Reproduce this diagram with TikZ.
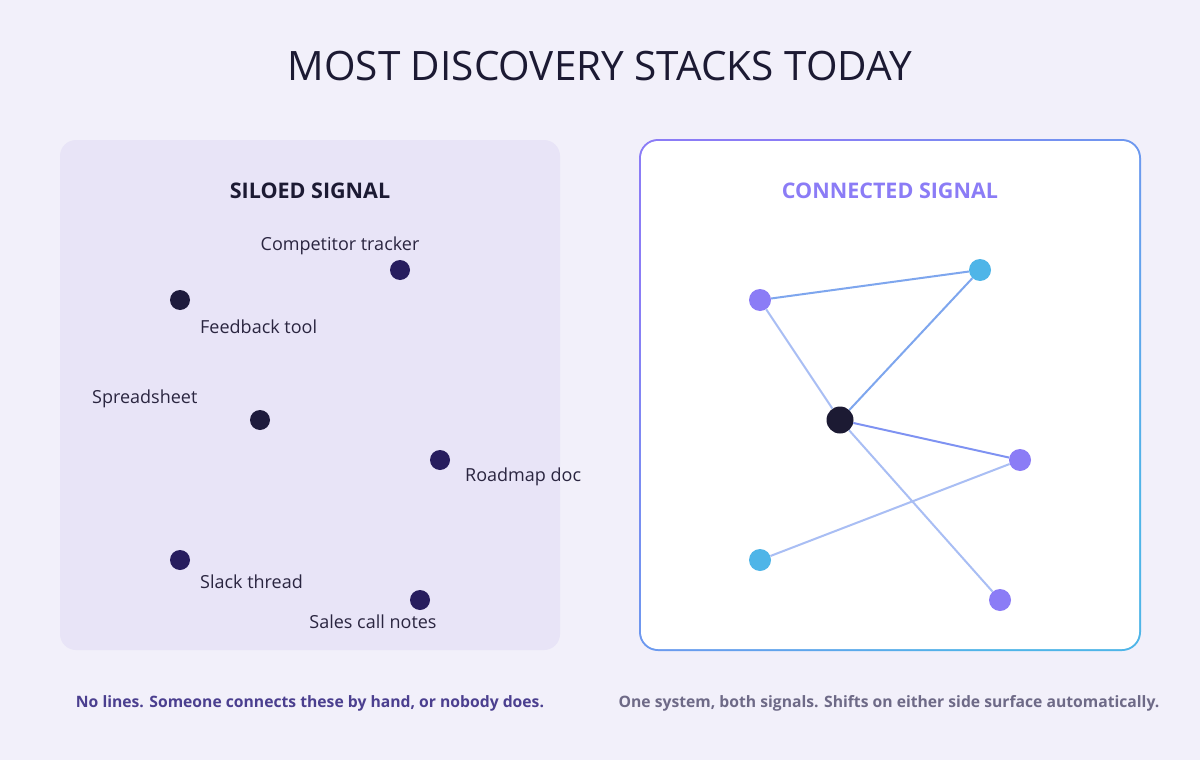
\documentclass[tikz,border=0pt]{standalone}
\usepackage{fontspec}
\setmainfont{Open Sans}
\definecolor{bg}{HTML}{F2F0FA}
\definecolor{leftpanel}{HTML}{E8E4F7}
\definecolor{ink}{HTML}{1C1A33}
\definecolor{labelink}{HTML}{2A2540}
\definecolor{dotA}{HTML}{271D5E}
\definecolor{dotB}{HTML}{1E1B3D}
\definecolor{purp}{HTML}{8B7CF6}
\definecolor{cyanb}{HTML}{4FB5E8}
\definecolor{edgeA}{HTML}{7EA6EE}
\definecolor{edgeB}{HTML}{A9BEF4}
\definecolor{edgeC}{HTML}{7E92F2}
\definecolor{capL}{HTML}{4B3F8F}
\definecolor{capR}{HTML}{6E6A87}
\tikzset{
  sdot/.style={circle, fill=#1, minimum size=20pt, inner sep=0pt},
  lbl/.style={font=\fontsize{18}{21}\selectfont, text=labelink, inner sep=0pt},
  cnode/.style={circle, fill=#1, minimum size=22pt, inner sep=0pt},
  edgestrong/.style={draw=edgeA, line width=2pt},
  edgelight/.style={draw=edgeB, line width=2pt},
  head/.style={font=\bfseries\fontsize{21.5}{25}\selectfont, inner sep=0pt},
  captxt/.style={font=\bfseries\fontsize{15.7}{19}\selectfont, inner sep=0pt},
}
\begin{document}
\begin{tikzpicture}[x=1pt,y=-1pt]
\fill[bg] (0,0) rectangle (1200,760);
\useasboundingbox (0,0) rectangle (1200,760);
% title
\node[font=\fontsize{40.5}{48}\selectfont, text=ink, inner sep=0pt] (title) at (600,66) {MOST DISCOVERY STACKS TODAY};
% left panel
\fill[leftpanel, rounded corners=16pt] (60,140) rectangle (560,650);
\node[head, text=ink] (lh) at (310,191) {SILOED SIGNAL};
\node[sdot=dotA] (ct) at (400,270) {};
\node[sdot=dotB] (fb) at (180,300) {};
\node[sdot=dotB] (ss) at (260,420) {};
\node[sdot=dotA] (rd) at (440,460) {};
\node[sdot=dotA] (sl) at (180,560) {};
\node[sdot=dotA] (sc) at (420,600) {};
\node[lbl] (ctl) at (340,246) {Competitor tracker};
\node[lbl, anchor=west] (fbl) at (200,327) {Feedback tool};
\node[lbl, anchor=west] (ssl) at (92,399) {Spreadsheet};
\node[lbl, anchor=west] (rdl) at (465,477) {Roadmap doc};
\node[lbl, anchor=west] (sll) at (200,582) {Slack thread};
\node[lbl] (scl) at (373,622) {Sales call notes};
% right panel
\shade[top color=purp, bottom color=cyanb, shading angle=45, rounded corners=19pt] (639,139) rectangle (1141,651);
\fill[white, rounded corners=17pt] (641,141) rectangle (1139,649);
\node[head, text=purp] (rh) at (890,191) {CONNECTED SIGNAL};
\node[cnode=purp] (a) at (760,300) {};
\node[cnode=cyanb] (b) at (980,270) {};
\node[circle, fill=ink, minimum size=27pt, inner sep=0pt] (c) at (840,420) {};
\node[cnode=purp] (d) at (1020,460) {};
\node[cnode=cyanb] (e) at (760,560) {};
\node[cnode=purp] (f) at (1000,600) {};
\draw[edgestrong] (a) -- (b);
\draw[edgelight] (a) -- (c);
\draw[edgestrong] (c) -- (b);
\draw[draw=edgeC, line width=2pt] (c) -- (d);
\draw[edgelight] (d) -- (e);
\draw[edgelight] (c) -- (f);
% captions
\node[captxt, text=capL] (cl) at (310,703) {No lines. Someone connects these by hand, or nobody does.};
\node[captxt, text=capR] (cr) at (889,703) {One system, both signals. Shifts on either side surface automatically.};
\end{tikzpicture}
\end{document}
